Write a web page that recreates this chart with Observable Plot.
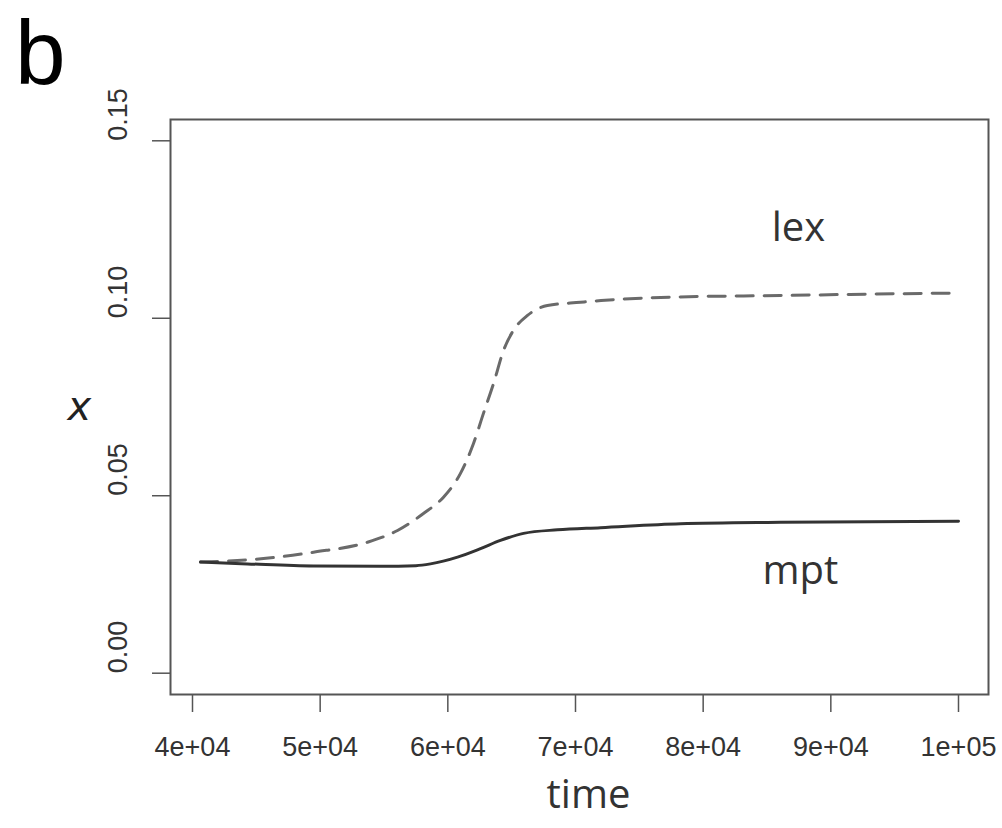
<!DOCTYPE html>
<html>
<head>
<meta charset="utf-8">
<script src="https://cdn.jsdelivr.net/npm/d3@7"></script>
<script src="https://cdn.jsdelivr.net/npm/@observablehq/plot@0.6"></script>
<style>
  html, body { margin: 0; padding: 0; background: #fff; }
  #wrap { position: relative; width: 1002px; height: 828px; }
  #panel { position: absolute; left: 15px; top: 7px; font-family: "Liberation Sans", Arial, sans-serif; font-size: 91px; color: #000; line-height: 1; }
</style>
</head>
<body>
<div id="wrap"><div id="panel">b</div></div>
<script>
// ---- data ----
const lexTime = [40630, 45560, 49480, 53710, 56060, 58090, 59660, 60990, 62010, 62790, 63580, 64360, 65140, 66240, 67800, 70390, 72000, 78000, 86060, 93000, 100000];
const lexX    = [0.0313, 0.0323, 0.0341, 0.0369, 0.0402, 0.0450, 0.0496, 0.0563, 0.0647, 0.0732, 0.0816, 0.0909, 0.0966, 0.1008, 0.1036, 0.1045, 0.1050, 0.1060, 0.1064, 0.1068, 0.1071];
const mptTime = [40630, 44310, 49480, 54730, 57500, 58640, 60760, 62560, 64120, 65930, 68590, 71960, 78220, 86060, 93000, 100000];
const mptX    = [0.0313, 0.0308, 0.0302, 0.0301, 0.0303, 0.0308, 0.0327, 0.0351, 0.0374, 0.0394, 0.0404, 0.0410, 0.0421, 0.0425, 0.0427, 0.0428];

const xTicks = [40000, 50000, 60000, 70000, 80000, 90000, 100000];
const xTickLabels = ["4e+04", "5e+04", "6e+04", "7e+04", "8e+04", "9e+04", "1e+05"];
const yTicks = [0, 0.05, 0.10, 0.15];
const yTickLabels = ["0.00", "0.05", "0.10", "0.15"];

const seriesNames = ["lex", "mpt"];
const seriesLabelTime = [87466, 87620];
const seriesLabelX = [0.1219, 0.0250];

// ---- build tables ----
const lex = lexTime.map((t, i) => ({time: t, x: lexX[i]}));
const mpt = mptTime.map((t, i) => ({time: t, x: mptX[i]}));
const labels = seriesNames.map((n, i) => ({name: n, time: seriesLabelTime[i], x: seriesLabelX[i]}));

const tickFont = "'Liberation Sans', Arial, sans-serif";
const labelFont = "'Open Sans', sans-serif";

const chart = Plot.plot({
  width: 1002,
  height: 828,
  marginLeft: 170,
  marginRight: 14,
  marginTop: 119,
  marginBottom: 134,
  x: {domain: [38277, 102350]},
  y: {domain: [-0.006, 0.156]},
  style: {background: "#fff"},
  marks: [
    Plot.frame({stroke: "#555", strokeWidth: 2}),
    Plot.axisX({ticks: xTicks, tickSize: 18, tickPadding: 24, stroke: "#555", strokeWidth: 1.5,
      tickFormat: d => xTickLabels[xTicks.indexOf(d)], fontSize: 27, fontFamily: tickFont, fill: "#333", label: null}),
    Plot.axisY({ticks: yTicks, tickSize: 18, stroke: "#555", strokeWidth: 1.5, tickFormat: () => "", label: null}),
    Plot.text(yTicks, {y: d => d, text: d => yTickLabels[yTicks.indexOf(d)], frameAnchor: "left", dx: -52, rotate: -90,
      fontSize: 27, fontFamily: tickFont, fill: "#333"}),
    Plot.text(["x"], {frameAnchor: "left", dx: -103, fontSize: 40, fontStyle: "italic", fontFamily: "'DejaVu Sans', sans-serif", fill: "#222"}),
    Plot.text(["time"], {frameAnchor: "bottom", dx: 9, dy: 113, fontSize: 40, fontFamily: labelFont, fill: "#333"}),
    Plot.line(lex, {x: "time", y: "x", curve: "monotone-x", stroke: "#6a6a6a", strokeWidth: 3, strokeDasharray: "17,11"}),
    Plot.line(mpt, {x: "time", y: "x", curve: "monotone-x", stroke: "#333", strokeWidth: 3}),
    Plot.text(labels, {x: "time", y: "x", text: "name", lineAnchor: "bottom", fontSize: 40, fontFamily: labelFont, fill: "#333"})
  ]
});
document.getElementById("wrap").prepend(chart);
</script>
</body>
</html>
